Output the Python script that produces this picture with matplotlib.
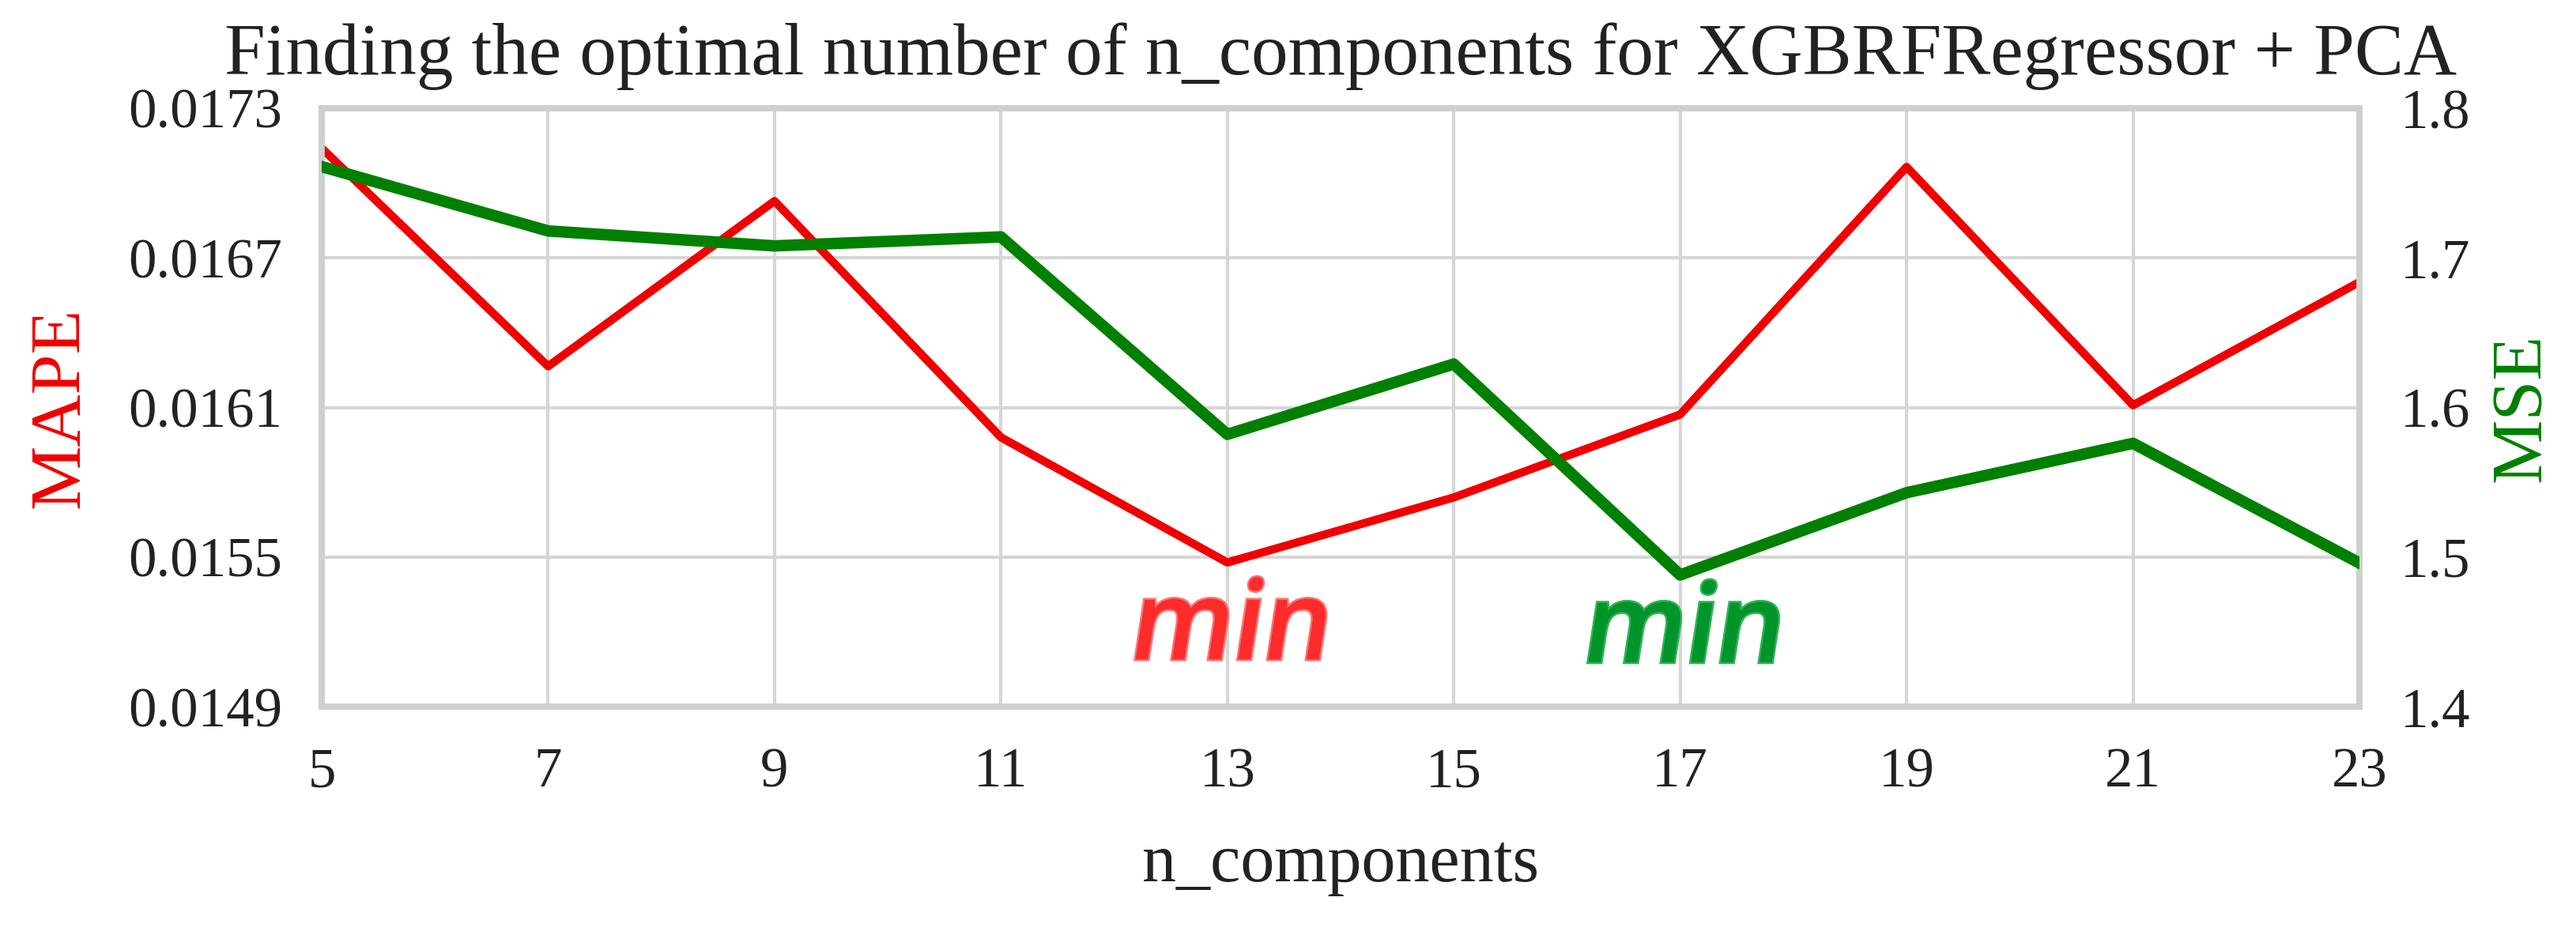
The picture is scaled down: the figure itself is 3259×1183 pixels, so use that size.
import matplotlib
matplotlib.use("Agg")
import matplotlib.pyplot as plt
import matplotlib.patheffects as pe
from matplotlib.textpath import TextPath
from matplotlib.patches import PathPatch
from matplotlib.font_manager import FontProperties
from matplotlib.transforms import Affine2D, ScaledTranslation

n_components = [5, 7, 9, 11, 13, 15, 17, 19, 21, 23]
mape = [0.01714, 0.016265, 0.016928, 0.015980, 0.015478, 0.015739, 0.016072, 0.017065, 0.016109, 0.016603]
mse = [1.761, 1.718, 1.708, 1.714, 1.582, 1.629, 1.488, 1.543, 1.576, 1.496]
mape_ticks = [0.0149, 0.0155, 0.0161, 0.0167, 0.0173]
mse_ticks = [1.4, 1.5, 1.6, 1.7, 1.8]
title = "Finding the optimal number of n_components for XGBRFRegressor + PCA"
min_label = "min"

serif = ["Liberation Serif", "DejaVu Serif"]
plt.rcParams['font.family'] = serif

W, H = 3259, 1183
dpi = 100
fig = plt.figure(figsize=(W / dpi, H / dpi), dpi=dpi)
L, R, T, B = 407, 2985, 137, 894
ax = fig.add_axes([L / W, 1 - B / H, (R - L) / W, (B - T) / H])
ax2 = ax.twinx()

grid_c = "#d6d6d6"
spine_c = "#cfcfcf"
red = "#f00000"
green = "#008000"
ax.plot(n_components, mape, color=red, lw=7.5, zorder=3)
ax2.plot(n_components, mse, color=green, lw=10.5, zorder=3)

ax.set_xlim(5, 23)
ax.set_xticks(n_components)
ax.set_ylim(0.0149, 0.0173)
ax.set_yticks(mape_ticks)
ax.set_yticklabels([f"{v:.4f}" for v in mape_ticks])
ax2.set_ylim(1.4, 1.8)
ax2.set_yticks(mse_ticks)
ax2.set_yticklabels([f"{v:.1f}" for v in mse_ticks])

ax.grid(True, color=grid_c, lw=3)
ax2.grid(False)
for a in (ax, ax2):
    for s in a.spines.values():
        s.set_color(spine_c)
        s.set_linewidth(5.5)
ax.tick_params(axis="both", length=0, labelsize=51, colors="#222222")
ax.tick_params(axis="y", pad=36)
ax.tick_params(axis="x", pad=37)
ax2.tick_params(axis="y", length=0, labelsize=51, colors="#222222", pad=37)

ax.set_xlabel("n_components", fontsize=62, color="#222222", va="baseline")
ax.xaxis.set_label_coords(0.5, -0.292)
ax.set_ylabel("MAPE", fontsize=66, color=red, va="center")
ax.yaxis.set_label_coords(-0.128, 0.5)
ax2.set_ylabel("MSE", fontsize=66, color=green, va="center", rotation=90)
ax2.yaxis.set_label_coords(1.0803, 0.5)

ax.text(0.5, 1.057, title, transform=ax.transAxes, ha="center", va="baseline",
        fontsize=67, color="#222222")

# "min" annotations: sans, narrowed and slanted, with a light outline
fp = FontProperties(family=["Open Sans", "DejaVu Sans"], weight="semibold", style="normal")
tp = TextPath((0, 0), min_label, size=100, prop=fp)
ext = tp.get_extents()
target_w, target_h = 232.0, 104.0  # pixels: width and baseline-to-dot height
sx = target_w / ext.width
sy = target_h / ext.y1


def add_min(x, y_base, fill, edge):
    tr = (Affine2D().translate(-(ext.x0 + ext.width / 2), 0)
          .skew_deg(9, 0).scale(sx, sy)
          + ScaledTranslation(x, y_base, ax.transData))
    patch = PathPatch(tp, transform=tr, facecolor=fill, edgecolor="none", zorder=6,
                      clip_on=False)
    patch.set_path_effects([pe.Stroke(linewidth=3.5, foreground=edge), pe.Normal()])
    fig.add_artist(patch)


add_min(13, 0.015090, "#fa2c2c", "#ff7272")
add_min(17, 0.015078, "#00952a", "#35b358")

fig.savefig("out.png", dpi=dpi, facecolor="white")
